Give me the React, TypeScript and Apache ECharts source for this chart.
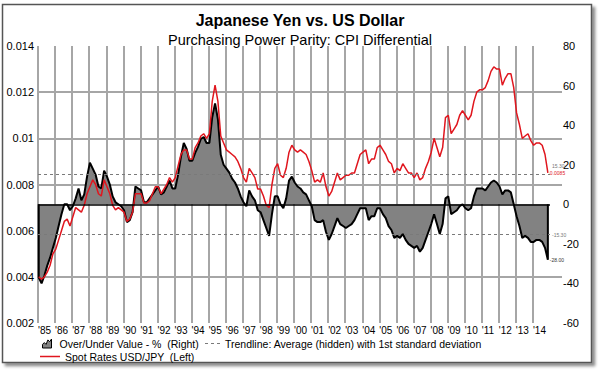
import React, { useEffect, useRef } from "react";
import * as echarts from "echarts";

// ---- data (6 readings per year, 1985 .. 2014) ----
const YEAR_LABELS = [
  "'85", "'86", "'87", "'88", "'89", "'90", "'91", "'92", "'93", "'94",
  "'95", "'96", "'97", "'98", "'99", "'00", "'01", "'02", "'03", "'04",
  "'05", "'06", "'07", "'08", "'09", "'10", "'11", "'12", "'13", "'14",
];

// Spot rate, USD per JPY (left axis)
const SPOT_USD_PER_JPY = [
  0.0040, 0.0039, 0.0040, 0.0042, 0.0045, 0.0050, // 1985
  0.0052, 0.0056, 0.0060, 0.0064, 0.0065, 0.0062, // 1986
  0.0066, 0.0070, 0.0069, 0.0068, 0.0071, 0.0076, // 1987
  0.0079, 0.0082, 0.0080, 0.0076, 0.0075, 0.0082, // 1988
  0.0079, 0.0076, 0.0071, 0.0069, 0.0070, 0.0069, // 1989
  0.0068, 0.0064, 0.0065, 0.0068, 0.0076, 0.0076, // 1990
  0.0076, 0.0072, 0.0072, 0.0073, 0.0076, 0.0079, // 1991
  0.0079, 0.0076, 0.0078, 0.0080, 0.0083, 0.0081, // 1992
  0.0083, 0.0088, 0.0093, 0.0095, 0.0095, 0.0091, // 1993
  0.0091, 0.0096, 0.0098, 0.0101, 0.0102, 0.0100, // 1994
  0.0102, 0.0116, 0.0123, 0.0116, 0.0101, 0.0098, // 1995
  0.0095, 0.0094, 0.0093, 0.0092, 0.0090, 0.0087, // 1996
  0.0083, 0.0081, 0.0087, 0.0085, 0.0083, 0.0078, // 1997
  0.0078, 0.0075, 0.0071, 0.0070, 0.0080, 0.0087, // 1998
  0.0089, 0.0084, 0.0083, 0.0087, 0.0094, 0.0097, // 1999
  0.0095, 0.0094, 0.0095, 0.0094, 0.0093, 0.0090, // 2000
  0.0086, 0.0081, 0.0082, 0.0081, 0.0085, 0.0079, // 2001
  0.0075, 0.0077, 0.0081, 0.0085, 0.0082, 0.0083, // 2002
  0.0084, 0.0084, 0.0085, 0.0085, 0.0089, 0.0093, // 2003
  0.0094, 0.0095, 0.0089, 0.0091, 0.0091, 0.0096, // 2004
  0.0097, 0.0095, 0.0093, 0.0090, 0.0089, 0.0085, // 2005
  0.0087, 0.0086, 0.0089, 0.0087, 0.0085, 0.0085, // 2006
  0.0083, 0.0085, 0.0082, 0.0083, 0.0087, 0.0090, // 2007
  0.0094, 0.0100, 0.0096, 0.0092, 0.0096, 0.0109, // 2008
  0.0110, 0.0102, 0.0104, 0.0106, 0.0110, 0.0112, // 2009
  0.0110, 0.0108, 0.0110, 0.0116, 0.0120, 0.0121, // 2010
  0.0121, 0.0122, 0.0125, 0.0129, 0.0131, 0.0130, // 2011
  0.0130, 0.0123, 0.0126, 0.0128, 0.0128, 0.0122, // 2012
  0.0111, 0.0106, 0.0100, 0.0101, 0.0102, 0.0099, // 2013
  0.0097, 0.0098, 0.0098, 0.0097, 0.0093, 0.0085, // 2014
];

// Over / under valuation, % (right axis)
const OVER_UNDER_PCT = [
  -37, -40, -36, -31, -27, -22, // 1985
  -17, -11, -5, 0, 0, -3,       // 1986
  -1, 3, 8, 2, 5, 14,           // 1987
  21, 18, 15, 9, 8, 17,         // 1988
  14, 10, 4, 1, 0, -1,          // 1989
  -3, -9, -8, -4, 9, 8,         // 1990
  7, 1, 1, 3, 5, 7,             // 1991
  9, 5, 6, 9, 12, 8,            // 1992
  8, 15, 24, 31, 28, 22,        // 1993
  22, 26, 29, 33, 34, 31,       // 1994
  31, 44, 51, 43, 25, 20,       // 1995
  18, 16, 13, 11, 8, 4,         // 1996
  1, -1, 7, 4, 2, -3,           // 1997
  -4, -8, -12, -16, -5, 4,      // 1998
  4, 0, -2, 3, 12, 14,          // 1999
  11, 9, 8, 6, 5, 2,            // 2000
  -1, -8, -9, -9, -8, -14,      // 2001
  -18, -15, -11, -7, -10, -11,  // 2002
  -12, -11, -10, -8, -5, -2,    // 2003
  -2, -2, -8, -6, -6, -2,       // 2004
  -2, -5, -7, -11, -13, -17,    // 2005
  -16, -17, -15, -18, -20, -21, // 2006
  -22, -21, -24, -22, -18, -14, // 2007
  -10, -5, -10, -15, -10, 3,    // 2008
  4, -5, -4, -3, -1, 0,         // 2009
  -2, -3, -2, 4, 8, 8,          // 2010
  8, 7, 9, 11, 12, 11,          // 2011
  9, 5, 7, 7, 6, 0,             // 2012
  -6, -11, -17, -16, -17, -19,  // 2013
  -19, -18, -18, -19, -22, -28, // 2014
];

const TREND_STD_UPPER = 15.3;
const TREND_STD_LOWER = -15.3;

const FIRST_YEAR = 1985;
const LAST_YEAR = 2015;
const PER_YEAR = 6;
const LEFT_MIN = 0.002, LEFT_MAX = 0.014, LEFT_STEP = 0.002;
const RIGHT_MIN = -60, RIGHT_MAX = 80, RIGHT_STEP = 20;

const S_OVER = "Over/Under Value - %  (Right)";
const S_TREND = "Trendline: Average (hidden) with 1st standard deviation";
const S_SPOT = "Spot Rates USD/JPY  (Left)";

const FONT = "'Liberation Sans', Arial, Helvetica, sans-serif";
const GRID_COLOR = "#a6a6a6";
const RED = "#e0161e";
const FILL = "#828282";
const TREND_COLOR = "#7a7a7a";

export default function App() {
  const ref = useRef<HTMLDivElement>(null);

  useEffect(() => {
    if (!ref.current) return;
    const chart = echarts.init(ref.current, null, { renderer: "svg" });

    const xOf = (i: number) => FIRST_YEAR + (i + 0.25) / PER_YEAR;
    const spotData = SPOT_USD_PER_JPY.map((v, i) => [xOf(i), v]);
    const overPts = OVER_UNDER_PCT.map((v, i) => [xOf(i), v]);
    const lastIdx = OVER_UNDER_PCT.length - 1;
    const overData = [[xOf(0), 0], ...overPts, [xOf(lastIdx), 0]];

    const top = 46;
    const bottom = 47;
    const legendText = { fontFamily: FONT, fontSize: 10.5, color: "#000" };

    const option: any = {
      animation: false,
      backgroundColor: "#ffffff",
      textStyle: { fontFamily: FONT },
      graphic: [
        {
          type: "rect",
          z: -100,
          silent: true,
          shape: { x: 2.5, y: 4.5, width: 589, height: 358 },
          style: {
            fill: "#ffffff",
            stroke: "#555555",
            lineWidth: 1.5,
            shadowBlur: 3,
            shadowOffsetX: 3,
            shadowOffsetY: 3,
            shadowColor: "rgba(0,0,0,0.45)",
          },
        },
      ],
      title: [
        {
          text: "Japanese Yen vs. US Dollar",
          left: "center",
          top: 12,
          padding: 0,
          textStyle: { fontFamily: FONT, fontSize: 16, fontWeight: "bold", color: "#000" },
        },
        {
          text: "Purchasing Power Parity: CPI Differential",
          left: "center",
          top: 32,
          padding: 0,
          textStyle: { fontFamily: FONT, fontSize: 14.5, fontWeight: "normal", color: "#000" },
        },
      ],
      legend: [
        {
          left: 42,
          top: 338,
          padding: 0,
          itemWidth: 15,
          itemHeight: 9,
          textStyle: legendText,
          data: [
            {
              name: S_OVER,
              icon: "path://M0,10L0,6L2,4L4,6L6,1L8,3L10,0L10,10Z",
              itemStyle: { color: FILL, borderColor: "#000", borderWidth: 1 },
            },
          ],
        },
        {
          left: 205,
          top: 338,
          padding: 0,
          itemWidth: 15,
          itemHeight: 9,
          textStyle: legendText,
          data: [
            {
              name: S_TREND,
              icon: "path://M0,0h3v1.2h-3z M6,0h3v1.2h-3z M12,0h3v1.2h-3z",
              itemStyle: { color: TREND_COLOR, borderWidth: 0 },
            },
          ],
        },
        {
          left: 40,
          top: 351,
          padding: 0,
          itemWidth: 20,
          itemHeight: 9,
          textStyle: legendText,
          data: [
            {
              name: S_SPOT,
              icon: "path://M0,0h20v1.5h-20z",
              itemStyle: { color: RED, borderWidth: 0 },
            },
          ],
        },
      ],
      grid: [
        { left: 38, right: 38, top, bottom },
        { left: 38, right: 50, top, bottom },
      ],
      xAxis: [
        {
          gridIndex: 0,
          type: "value",
          min: 0,
          max: 1,
          axisLine: { show: false },
          axisTick: { show: false },
          axisLabel: { show: false },
          splitLine: { show: false },
        },
        {
          gridIndex: 1,
          type: "value",
          min: FIRST_YEAR,
          max: LAST_YEAR,
          interval: 1,
          axisLine: { show: false },
          axisTick: { show: false },
          axisLabel: {
            formatter: (v: number) => YEAR_LABELS[Math.round(v) - FIRST_YEAR] ?? "",
            showMaxLabel: false,
            align: "left",
            margin: 2,
            fontSize: 10,
            color: "#000",
            fontFamily: FONT,
          },
          splitLine: {
            show: true,
            showMaxLine: false,
            lineStyle: { color: GRID_COLOR, width: 2 },
          },
        },
      ],
      yAxis: [
        {
          gridIndex: 0,
          type: "value",
          min: LEFT_MIN,
          max: LEFT_MAX,
          interval: LEFT_STEP,
          axisLine: { show: false },
          axisTick: { show: false },
          axisLabel: { show: false },
          splitLine: {
            show: true,
            lineStyle: {
              color: ["transparent", GRID_COLOR, "transparent", GRID_COLOR, GRID_COLOR, GRID_COLOR, "transparent"],
              width: 2,
            },
          },
        },
        {
          gridIndex: 1,
          type: "value",
          position: "left",
          min: LEFT_MIN,
          max: LEFT_MAX,
          interval: LEFT_STEP,
          axisLine: { show: false },
          axisTick: { show: false },
          splitLine: { show: false },
          axisLabel: {
            formatter: (v: number) => String(parseFloat(v.toFixed(3))),
            margin: 4,
            fontSize: 11,
            color: "#000",
            fontFamily: FONT,
          },
        },
        {
          gridIndex: 1,
          type: "value",
          position: "right",
          min: RIGHT_MIN,
          max: RIGHT_MAX,
          interval: RIGHT_STEP,
          axisLine: { show: false },
          axisTick: { show: false },
          splitLine: { show: false },
          axisLabel: {
            margin: 13,
            fontSize: 11,
            color: "#000",
            fontFamily: FONT,
          },
        },
      ],
      series: [
        {
          name: S_OVER,
          type: "line",
          xAxisIndex: 1,
          yAxisIndex: 2,
          data: overData,
          symbol: "none",
          lineStyle: { color: "#000", width: 2 },
          itemStyle: { color: "#000" },
          areaStyle: { color: FILL, opacity: 1 },
          z: 2,
          markLine: {
            silent: true,
            symbol: ["none", "none"],
            data: [
              {
                yAxis: 0,
                lineStyle: { color: "#000", type: "solid", width: 1.5 },
                label: { show: false },
              },
              {
                yAxis: TREND_STD_UPPER,
                lineStyle: { color: TREND_COLOR, type: [3, 3], width: 1 },
                label: {
                  show: true,
                  position: "end",
                  formatter: TREND_STD_UPPER.toFixed(2),
                  fontSize: 5,
                  color: "#777",
                  distance: 2,
                  offset: [0, -8],
                },
              },
              {
                yAxis: TREND_STD_LOWER,
                lineStyle: { color: TREND_COLOR, type: [3, 3], width: 1 },
                label: {
                  show: true,
                  position: "end",
                  formatter: TREND_STD_LOWER.toFixed(2),
                  fontSize: 5,
                  color: "#777",
                  distance: 2,
                },
              },
            ],
          },
          markPoint: {
            symbol: "circle",
            symbolSize: 0,
            silent: true,
            label: {
              show: true,
              position: "right",
              fontSize: 5,
              color: "#333",
              formatter: OVER_UNDER_PCT[lastIdx].toFixed(2),
              distance: 2,
            },
            data: [{ coord: overPts[lastIdx] }],
          },
        },
        {
          name: S_TREND,
          type: "line",
          xAxisIndex: 1,
          yAxisIndex: 2,
          data: [],
          symbol: "none",
          lineStyle: { color: TREND_COLOR, type: [3, 2], width: 1.2 },
          itemStyle: { color: TREND_COLOR },
        },
        {
          name: S_SPOT,
          type: "line",
          xAxisIndex: 1,
          yAxisIndex: 1,
          data: spotData,
          symbol: "none",
          lineStyle: { color: RED, width: 1.5 },
          itemStyle: { color: RED },
          z: 3,
          endLabel: {
            show: true,
            fontSize: 5,
            color: RED,
            distance: 2,
            formatter: (p: any) => p.value[1].toFixed(4),
          },
        },
      ],
    };

    chart.setOption(option);
    return () => chart.dispose();
  }, []);

  return (
    <div
      ref={ref}
      style={{ position: "fixed", left: 0, top: 0, width: 600, height: 370, background: "#fff" }}
    />
  );
}
